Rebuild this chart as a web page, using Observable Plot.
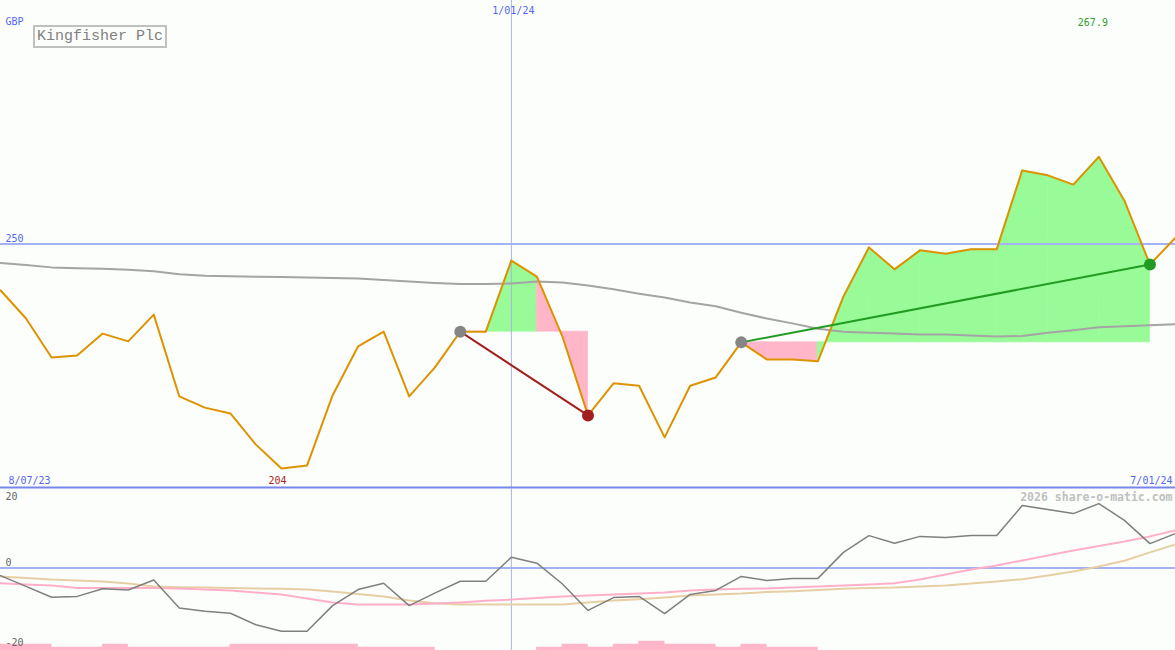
<!DOCTYPE html>
<html><head><meta charset="utf-8">
<script src="https://cdn.jsdelivr.net/npm/d3@7"></script>
<script src="https://cdn.jsdelivr.net/npm/@observablehq/plot@0.6"></script>
<style>
html,body{margin:0;padding:0;background:#fcfefc;}
#wrap{position:relative;width:1175px;height:650px;overflow:hidden;background:#fcfefc;}
#wrap svg{display:block;}
#title{position:absolute;left:33px;top:25px;width:130px;height:19px;border:2px solid #c0c0c0;
  font:15px "Liberation Mono","DejaVu Sans Mono",monospace;color:#808080;line-height:19px;text-align:center;background:#fcfefc;}
</style></head><body>
<div id="wrap"><div id="title">Kingfisher Plc</div></div>
<script>
// ---- data (weekly, index 0..46) ----
const currency = "GBP";
const leftDate = "8/07/23";
const midDate = "1/01/24";
const rightDate = "7/01/24";
const midIndex = 20;
const refLevel = 250;
const price = [240.5,234.7,226.7,227.1,231.6,230.0,235.5,218.7,216.4,215.2,208.8,203.9,204.5,218.9,229.0,232.0,218.7,224.6,232.0,232.0,246.6,243.3,231.0,214.8,221.4,220.9,210.3,220.9,222.6,229.8,226.3,226.3,225.9,239.2,249.3,244.8,248.7,248.0,248.9,248.9,265.1,264.1,262.2,267.9,258.9,245.8,251.3];
const priceMA = [246.1,245.7,245.2,245.0,244.9,244.7,244.4,243.8,243.5,243.4,243.3,243.2,243.1,243.0,242.9,242.6,242.3,242.0,241.8,241.8,241.9,242.3,242.1,241.5,240.7,239.8,239.0,238.0,237.2,235.9,234.7,233.7,232.6,232.0,231.8,231.6,231.4,231.4,231.2,231.0,231.1,231.8,232.3,232.9,233.1,233.3,233.5];
const momentum = [-1.9,-4.6,-7.3,-7.1,-5.2,-5.5,-3.0,-10.0,-10.8,-11.3,-14.2,-15.8,-15.8,-9.4,-5.4,-3.8,-9.4,-6.3,-3.3,-3.3,2.7,1.2,-4.0,-10.6,-7.4,-7.1,-11.4,-6.6,-5.6,-2.1,-3.1,-2.6,-2.6,3.9,8.1,6.2,7.9,7.6,8.1,8.1,15.6,14.6,13.6,16.1,11.9,6.1,8.6];
const momPink = [-3.8,-4.1,-4.4,-5.0,-5.0,-5.0,-5.0,-5.1,-5.4,-5.6,-6.1,-6.6,-7.6,-8.6,-9.1,-9.1,-9.1,-8.9,-8.6,-8.2,-7.9,-7.5,-7.1,-6.9,-6.6,-6.4,-6.1,-5.6,-5.4,-5.2,-5.1,-4.9,-4.6,-4.4,-4.1,-3.8,-2.9,-1.6,-0.4,0.6,1.9,3.1,4.4,5.5,6.6,7.9,9.4];
const momTan = [-2.1,-2.5,-2.9,-3.1,-3.4,-3.9,-4.6,-4.8,-4.9,-5.0,-5.1,-5.2,-5.4,-5.9,-6.5,-7.1,-8.1,-8.8,-9.1,-9.1,-9.1,-9.1,-9.1,-8.6,-8.1,-7.8,-7.4,-6.9,-6.6,-6.4,-6.0,-5.8,-5.5,-5.2,-5.0,-4.9,-4.6,-4.4,-3.9,-3.4,-2.8,-1.9,-0.9,0.4,1.8,3.9,5.9];
const barLevel = [2,2,1,1,2,1,1,1,1,2,2,2,2,2,1,1,1,0,0,0,0,1,2,1,2,3,2,2,1,2,1,1,0,0,0,0,0,0,0,0,0,0,0,0,0,0];
const trades = [{start:18,end:23,color:"#a31f1f"},{start:29,end:45,color:"#239b23"}];
const momTicks = [20,0,-20];

// ---- derived tables ----
const idx = price.map((_, i) => i);
const rows = idx.map(i => ({i, p: price[i], ma: priceMA[i], m: momentum[i], pk: momPink[i], tn: momTan[i]}));
const fillRows = [];
trades.forEach((t, ti) => {
  const ref = price[t.start];
  for (let k = t.start; k < t.end; k++) {
    const col = price[k + 1] > ref ? "#98fb98" : "#ffb6c8";
    const id = ti + "-" + k;
    fillRows.push({i: k, ref, p: price[k], id, fill: col});
    fillRows.push({i: k + 1, ref, p: price[k + 1], id, fill: col});
  }
});
const bars = barLevel.map((l, i) => ({i, l})).filter(d => d.l > 0);
const maxI = d3.maxIndex(price), minI = d3.minIndex(price);

const font = "DejaVu Sans Mono";
const blue = "#5566ee";
const lowMin = -20.625, lowMax = 19.875;

const topPlot = Plot.plot({
  width: 1175, height: 488, marginTop: 0, marginLeft: 0, marginRight: 0, marginBottom: 1,
  x: {domain: [0, 46], axis: null},
  y: {domain: [200, 300], axis: null},
  color: {type: "identity"},
  style: {background: "transparent", overflow: "visible"},
  marks: [
    Plot.areaY(fillRows, {x: "i", y1: "ref", y2: "p", z: "id", fill: "fill", stroke: "fill", strokeWidth: 0.7}),
    Plot.ruleX([midIndex], {stroke: "#aab2e2", strokeWidth: 1}),
    Plot.ruleY([refLevel], {stroke: "#a3b2f2", strokeWidth: 2}),
    Plot.ruleY([200], {stroke: "#7686ea", strokeWidth: 2}),
    Plot.line(rows, {x: "i", y: "ma", stroke: "#a4a4a4", strokeWidth: 2}),
    Plot.line(rows, {x: "i", y: "p", stroke: "#dd9300", strokeWidth: 2}),
    Plot.link(trades, {x1: "start", y1: d => price[d.start], x2: "end", y2: d => price[d.end], stroke: "color", strokeWidth: 2}),
    Plot.dot(trades, {x: "start", y: d => price[d.start], r: 6, fill: "#858585"}),
    Plot.dot(trades, {x: "end", y: d => price[d.end], r: 6, fill: "color"}),
    Plot.text([currency], {frameAnchor: "top-left", textAnchor: "start", lineAnchor: "bottom", dx: 5, dy: 24, fill: blue, fontFamily: font, fontSize: 10}),
    Plot.text([refLevel], {y: d => d, text: d => String(d), frameAnchor: "left", textAnchor: "start", lineAnchor: "bottom", dx: 5, dy: -2, fill: blue, fontFamily: font, fontSize: 10}),
    Plot.text([midDate], {x: () => midIndex, frameAnchor: "top", textAnchor: "middle", lineAnchor: "bottom", dx: 2, dy: 13, fill: blue, fontFamily: font, fontSize: 10}),
    Plot.text([price[maxI]], {x: () => maxI, text: d => d.toFixed(1), frameAnchor: "top", textAnchor: "middle", lineAnchor: "bottom", dx: -6, dy: 25, fill: "#2f9f2f", fontFamily: font, fontSize: 10}),
    Plot.text([price[minI]], {x: () => minI, text: d => d.toFixed(0), frameAnchor: "bottom", textAnchor: "middle", lineAnchor: "bottom", dx: -4, dy: -4, fill: "#aa2222", fontFamily: font, fontSize: 10}),
    Plot.text([leftDate], {frameAnchor: "bottom-left", textAnchor: "start", lineAnchor: "bottom", dx: 8, dy: -4, fill: blue, fontFamily: font, fontSize: 10}),
    Plot.text([rightDate], {frameAnchor: "bottom-right", textAnchor: "end", lineAnchor: "bottom", dx: -3, dy: -4, fill: blue, fontFamily: font, fontSize: 10})
  ]
});

const lowPlot = Plot.plot({
  width: 1175, height: 162, margin: 0,
  x: {domain: [0, 46], axis: null},
  y: {domain: [lowMin, lowMax], axis: null},
  style: {background: "transparent", overflow: "visible"},
  marks: [
    Plot.rectY(bars, {x1: "i", x2: d => d.i + 1, y1: lowMin, y2: d => lowMin + d.l * 0.75, fill: "#ffb6c8", stroke: "#ffb6c8", strokeWidth: 0.5}),
    Plot.ruleY([0], {stroke: "#a3b2f2", strokeWidth: 2}),
    Plot.ruleX([midIndex], {stroke: "#aab2e2", strokeWidth: 1}),
    Plot.line(rows, {x: "i", y: "tn", stroke: "#e6cfa2", strokeWidth: 2}),
    Plot.line(rows, {x: "i", y: "pk", stroke: "#ffb0c8", strokeWidth: 2}),
    Plot.line(rows, {x: "i", y: "m", stroke: "#7f7f7f", strokeWidth: 1.5}),
    Plot.text([momTicks[0]], {text: d => String(d), frameAnchor: "top-left", textAnchor: "start", lineAnchor: "bottom", dx: 5, dy: 11, fill: "#666", fontFamily: font, fontSize: 10}),
    Plot.text(momTicks.slice(1), {y: d => d, text: d => String(d), frameAnchor: "left", textAnchor: "start", lineAnchor: "bottom", dx: 5, dy: -2, fill: "#666", fontFamily: font, fontSize: 10}),
    Plot.text(["2026 share-o-matic.com"], {frameAnchor: "top-right", textAnchor: "end", lineAnchor: "bottom", dx: -3, dy: 12, fill: "#c0c0c0", fontWeight: "bold", fontFamily: font, fontSize: 11.5})
  ]
});

const wrap = document.getElementById("wrap");
wrap.appendChild(topPlot);
wrap.appendChild(lowPlot);
</script>
</body></html>
